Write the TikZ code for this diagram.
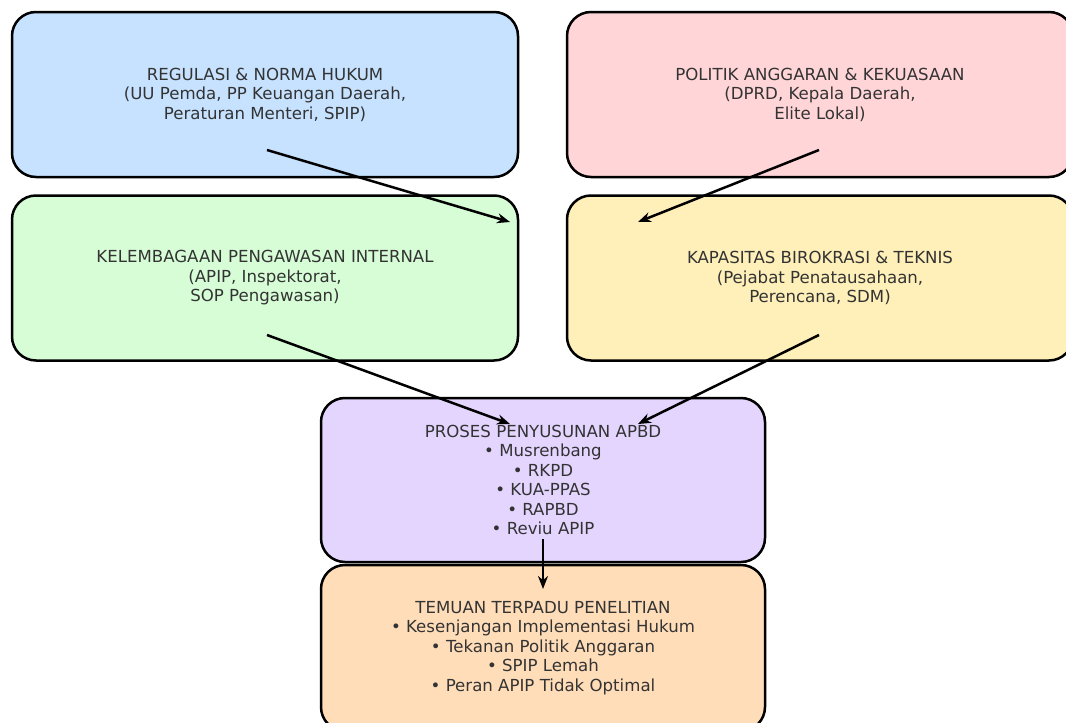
\documentclass[tikz,border=0pt]{standalone}
\usepackage{fontspec}
\setmainfont{DejaVu Sans}
\usetikzlibrary{arrows.meta}
\definecolor{cblue}{RGB}{198,226,255}
\definecolor{cpink}{RGB}{255,213,216}
\definecolor{cgreen}{RGB}{215,253,215}
\definecolor{cyellow}{RGB}{255,240,186}
\definecolor{cpurple}{RGB}{228,213,255}
\definecolor{corange}{RGB}{255,221,185}
\definecolor{ctext}{RGB}{51,51,51}
\tikzset{
  boxnode/.style={draw=black, line width=2.5pt, rounded corners=24pt, align=center,
    text=ctext, font=\fontsize{16.6}{19.5}\selectfont, inner sep=0pt},
  bigbox/.style={boxnode, minimum width=506pt, minimum height=165pt},
  midbox/.style={boxnode, minimum width=444pt, minimum height=164pt},
  arr/.style={-{Stealth[length=13pt,width=10pt]}, line width=2.5pt, black}
}
\begin{document}
\begin{tikzpicture}[x=1pt,y=-1pt]
\useasboundingbox (0,0) rectangle (1066,723);
\node[bigbox, fill=cblue] (reg) at (265,94.5) {REGULASI \& NORMA HUKUM\\(UU Pemda, PP Keuangan Daerah,\\Peraturan Menteri, SPIP)};
\node[bigbox, fill=cpink] (pol) at (820,94.5) {POLITIK ANGGARAN \& KEKUASAAN\\(DPRD, Kepala Daerah,\\Elite Lokal)};
\node[bigbox, fill=cgreen] (kel) at (265,278) {KELEMBAGAAN PENGAWASAN INTERNAL\\(APIP, Inspektorat,\\SOP Pengawasan)};
\node[bigbox, fill=cyellow] (kap) at (820,278) {KAPASITAS BIROKRASI \& TEKNIS\\(Pejabat Penatausahaan,\\Perencana, SDM)};
\node[midbox, fill=cpurple] (pro) at (543,480) {PROSES PENYUSUNAN APBD\\• Musrenbang\\• RKPD\\• KUA-PPAS\\• RAPBD\\• Reviu APIP};
\node[midbox, fill=corange, minimum height=166pt] (tem) at (543,648) {TEMUAN TERPADU PENELITIAN\\• Kesenjangan Implementasi Hukum\\• Tekanan Politik Anggaran\\• SPIP Lemah\\• Peran APIP Tidak Optimal};
\coordinate (a1s) at (267,150); \coordinate (a1e) at (510,222);
\coordinate (a2s) at (819,150); \coordinate (a2e) at (638,222);
\coordinate (a3s) at (267,335); \coordinate (a3e) at (510,424);
\coordinate (a4s) at (819,335); \coordinate (a4e) at (638,424);
\coordinate (a5s) at (543,539); \coordinate (a5e) at (543,589);
\draw[arr] (a1s) -- (a1e);
\draw[arr] (a2s) -- (a2e);
\draw[arr] (a3s) -- (a3e);
\draw[arr] (a4s) -- (a4e);
\draw[arr] (a5s) -- (a5e);
\end{tikzpicture}
\end{document}
